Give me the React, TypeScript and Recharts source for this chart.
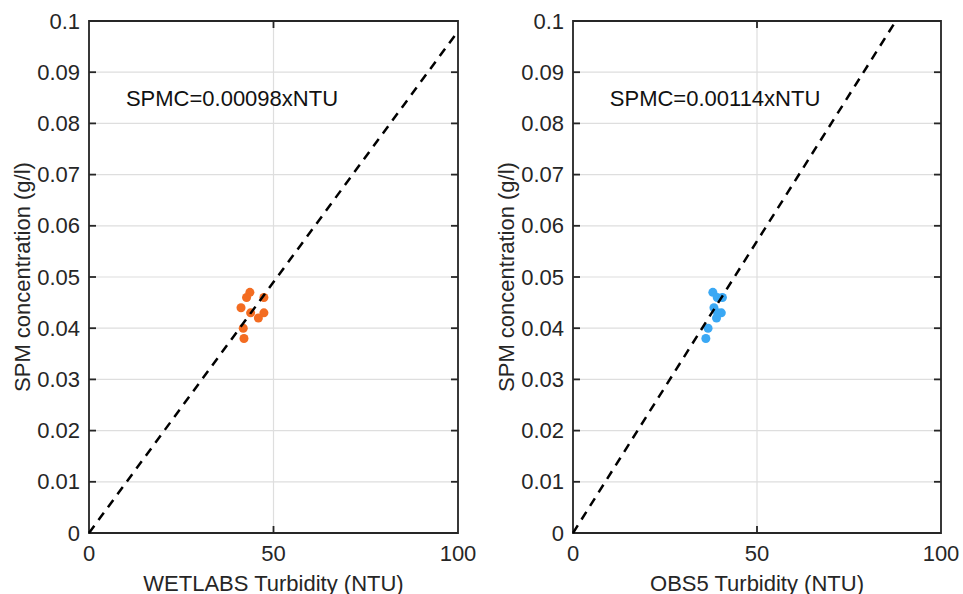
import React from 'react';
import { ComposedChart, XAxis, YAxis, CartesianGrid, Scatter, ReferenceDot, ReferenceArea, ReferenceLine } from 'recharts';

const yTicks = [0, 0.01, 0.02, 0.03, 0.04, 0.05, 0.06, 0.07, 0.08, 0.09, 0.1];
const xTicks = [0, 50, 100];

const wetlabsNTU = [43.6, 42.7, 47.4, 41.2, 43.8, 47.4, 45.9, 41.8, 42.0];
const wetlabsSPM = [0.047, 0.046, 0.046, 0.044, 0.043, 0.043, 0.042, 0.040, 0.038];

const obs5NTU = [38.0, 40.6, 39.2, 38.3, 40.3, 39.3, 39.0, 36.7, 36.1];
const obs5SPM = [0.047, 0.046, 0.046, 0.044, 0.043, 0.043, 0.042, 0.040, 0.038];

const wetlabsSlope = 0.00098;
const obs5Slope = 0.00114;

const FONT = '"Liberation Sans", Arial, Helvetica, sans-serif';
const AX = '#262626';
const GRID = '#dedede';
const SW = 1.8;
// tick mark length as a fraction of each axis range (MATLAB-style inward ticks)
const TICK_FRAC = 0.019;

const LeftTick = (p: any) => (
  <text x={p.x} y={p.y} textAnchor="end" dominantBaseline="central" fill={AX} fontSize={22} fontFamily={FONT}>
    {String(p.payload.value)}
  </text>
);

const BottomTick = (p: any) => (
  <text x={p.x} y={p.y} textAnchor="middle" dominantBaseline="hanging" fill={AX} fontSize={22} fontFamily={FONT}>
    {String(p.payload.value)}
  </text>
);

type PanelProps = {
  ntu: number[];
  spm: number[];
  slope: number;
  color: string;
  xLabel: string;
  eq: string;
  yAxisWidth: number;
  width: number;
};

function Panel({ ntu, spm, slope, color, xLabel, eq, yAxisWidth, width }: PanelProps) {
  const pts = ntu.map((x, i) => ({ x, y: spm[i] }));
  const xEnd = Math.min(100, 0.1 / slope);
  const fit = [
    { x: 0, y: 0 },
    { x: xEnd, y: slope * xEnd },
  ];
  const xMin = xTicks[0];
  const xMax = xTicks[xTicks.length - 1];
  const yMin = yTicks[0];
  const yMax = yTicks[yTicks.length - 1];
  const tx = (xMax - xMin) * TICK_FRAC;
  const ty = (yMax - yMin) * TICK_FRAC * 0.72;

  const yLabel = (props: any) => {
    const vb = props.viewBox || {};
    const cx = vb.x + vb.width - 67;
    const cy = vb.y + vb.height / 2;
    return (
      <text
        x={cx}
        y={cy}
        transform={`rotate(-90, ${cx}, ${cy})`}
        textAnchor="middle"
        dominantBaseline="central"
        fill={AX}
        fontSize={22}
        fontFamily={FONT}
      >
        SPM concentration (g/l)
      </text>
    );
  };

  const xLabelFn = (props: any) => {
    const vb = props.viewBox || {};
    return (
      <text
        x={vb.x + vb.width / 2}
        y={vb.y + 50}
        textAnchor="middle"
        dominantBaseline="central"
        fill={AX}
        fontSize={22}
        fontFamily={FONT}
      >
        {xLabel}
      </text>
    );
  };

  const eqLabel = (props: any) => {
    const vb = props.viewBox || {};
    return (
      <text
        x={vb.x}
        y={vb.y}
        textAnchor="start"
        dominantBaseline="central"
        fill="#111"
        fontSize={22}
        fontFamily={FONT}
      >
        {eq}
      </text>
    );
  };

  const inner = (v: number, i: number) => v !== yMin && v !== yMax;

  return (
    <ComposedChart width={width} height={594} margin={{ top: 21, right: 22, bottom: 0, left: 0 }}>
      <CartesianGrid stroke={GRID} strokeWidth={1.2} horizontalValues={yTicks} verticalValues={xTicks} />
      <Scatter data={pts} fill={color} isAnimationActive={false} shape="circle" />
      <Scatter
        data={fit}
        isAnimationActive={false}
        line={{ stroke: '#000', strokeWidth: 2.5, strokeDasharray: '9 7' }}
        lineType="joint"
        shape={() => <g />}
      />
      {yTicks.filter(inner).map((v) => (
        <ReferenceLine
          key={`l${v}`}
          segment={[{ x: xMin, y: v }, { x: xMin + tx, y: v }]}
          stroke={AX}
          strokeWidth={SW}
          ifOverflow="visible"
        />
      ))}
      {yTicks.filter(inner).map((v) => (
        <ReferenceLine
          key={`r${v}`}
          segment={[{ x: xMax - tx, y: v }, { x: xMax, y: v }]}
          stroke={AX}
          strokeWidth={SW}
          ifOverflow="visible"
        />
      ))}
      {xTicks.filter((v) => v !== xMin && v !== xMax).map((v) => (
        <ReferenceLine
          key={`b${v}`}
          segment={[{ x: v, y: yMin }, { x: v, y: yMin + ty }]}
          stroke={AX}
          strokeWidth={SW}
          ifOverflow="visible"
        />
      ))}
      {xTicks.filter((v) => v !== xMin && v !== xMax).map((v) => (
        <ReferenceLine
          key={`t${v}`}
          segment={[{ x: v, y: yMax - ty }, { x: v, y: yMax }]}
          stroke={AX}
          strokeWidth={SW}
          ifOverflow="visible"
        />
      ))}
      <ReferenceArea
        x1={xMin}
        x2={xMax}
        y1={yMin}
        y2={yMax}
        fill="none"
        fillOpacity={0}
        stroke={AX}
        strokeWidth={SW}
        strokeOpacity={1}
        ifOverflow="visible"
      />
      <XAxis
        type="number"
        dataKey="x"
        domain={[xMin, xMax]}
        ticks={xTicks}
        interval={0}
        height={61}
        axisLine={false}
        tickLine={false}
        tickSize={0}
        tickMargin={12}
        tick={BottomTick}
        label={xLabelFn}
      />
      <YAxis
        type="number"
        dataKey="y"
        domain={[yMin, yMax]}
        ticks={yTicks}
        interval={0}
        width={yAxisWidth}
        axisLine={false}
        tickLine={false}
        tickSize={0}
        tickMargin={9}
        tick={LeftTick}
        label={yLabel}
      />
      <ReferenceDot x={10} y={0.0848} r={0} fill="none" stroke="none" label={eqLabel} />
    </ComposedChart>
  );
}

export default function App() {
  return (
    <div style={{ position: 'absolute', left: 0, top: 0, width: 963, height: 594, background: '#fff' }}>
      <div style={{ position: 'absolute', left: 0, top: 0 }}>
        <Panel
          ntu={wetlabsNTU}
          spm={wetlabsSPM}
          slope={wetlabsSlope}
          color="#f36c21"
          xLabel="WETLABS Turbidity (NTU)"
          eq="SPMC=0.00098xNTU"
          yAxisWidth={89}
          width={480}
        />
      </div>
      <div style={{ position: 'absolute', left: 480, top: 0 }}>
        <Panel
          ntu={obs5NTU}
          spm={obs5SPM}
          slope={obs5Slope}
          color="#3aa8f4"
          xLabel="OBS5 Turbidity (NTU)"
          eq="SPMC=0.00114xNTU"
          yAxisWidth={93}
          width={483}
        />
      </div>
    </div>
  );
}
